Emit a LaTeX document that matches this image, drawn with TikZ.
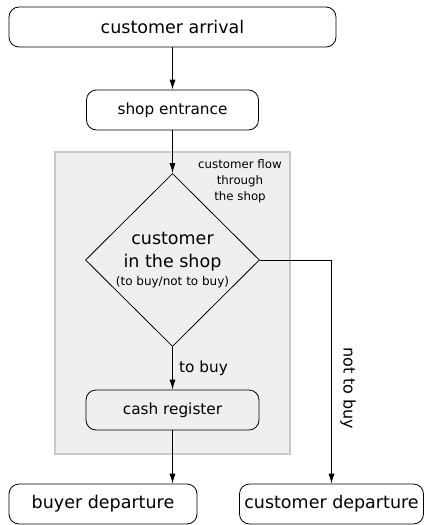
\documentclass[tikz,border=0pt]{standalone}
\usepackage{fontspec}
\setmainfont{DejaVu Sans}
\usetikzlibrary{shapes.geometric,arrows.meta}
\definecolor{zonefill}{HTML}{EFEFEF}
\definecolor{zoneline}{HTML}{C8C8C8}
\begin{document}
\begin{tikzpicture}[x=1pt,y=-1pt,
  big/.style={font=\fontsize{17.5}{23}\selectfont},
  mid/.style={font=\fontsize{15.3}{19}\selectfont},
  small/.style={font=\fontsize{11.8}{16}\selectfont},
  stage/.style={draw, line width=0.8pt, rounded corners=10pt, minimum height=40pt, inner sep=0pt},
  zone/.style={draw=zoneline, fill=zonefill, line width=2pt},
  arr/.style={draw, line width=0.8pt, -{Latex[length=10pt,width=6pt]}}]
\useasboundingbox (0,0) rectangle (424,525);

\node (zone) [zone, minimum width=235, minimum height=302, inner sep=0pt] at (172.5,303) {};
\node (zonelabel) [small, align=center] at (240,181) {customer flow\\through\\the shop};

\node (arrival) [stage, big, minimum width=327] at (172.5,27) {customer arrival};
\node (entrance) [stage, mid, minimum width=172] at (172.5,110) {shop entrance};
\node (decision) [draw, line width=0.8pt, diamond, minimum width=174, minimum height=173,
  inner sep=0pt, align=center, big] at (172.5,260)
  {customer\\in the shop\\[-5pt]{\fontsize{12}{15}\selectfont(to buy/not to buy)}};
\node (register) [stage, mid, minimum width=173] at (172.5,410) {cash register};
\node (buyer) [stage, big, minimum width=188] at (103,504) {buyer departure};
\node (leaver) [stage, big, minimum width=184] at (331.5,504) {customer departure};

\draw[arr] (arrival) -- (entrance);
\draw[arr] (entrance) -- (decision);
\draw[arr] (decision) -- node (buylabel) [mid, right=3pt] {to buy} (register);
\draw[arr] (register.south) -- (register.south |- buyer.north);
\draw[arr] (decision.east) -| node (notlabel) [font=\fontsize{16}{19}\selectfont, pos=0.787, right=5pt, rotate=-90, anchor=south] {not to buy} (leaver.north);
\end{tikzpicture}
\end{document}
